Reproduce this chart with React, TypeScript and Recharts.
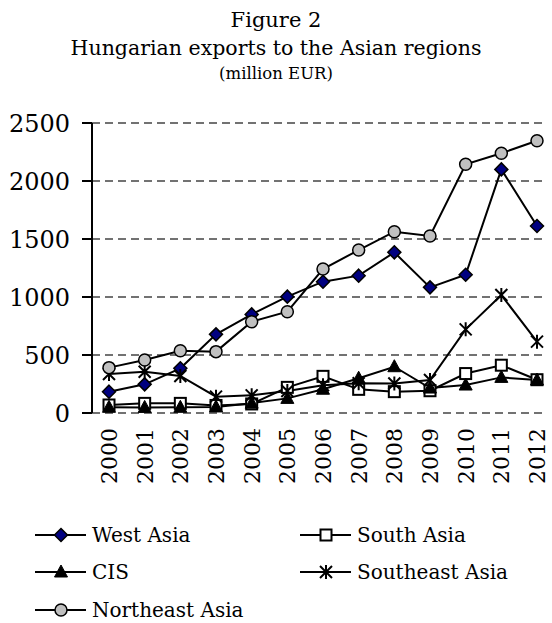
import { LineChart, Line, XAxis, YAxis, CartesianGrid } from 'recharts'

const years = ['2000', '2001', '2002', '2003', '2004', '2005', '2006', '2007', '2008', '2009', '2010', '2011', '2012']
const westAsia = [184, 247, 385, 678, 850, 1003, 1132, 1184, 1385, 1083, 1192, 2100, 1612]
const southAsia = [69, 83, 83, 65, 78, 221, 316, 204, 184, 192, 340, 412, 287]
const cis = [49, 48, 49, 52, 85, 126, 205, 300, 399, 215, 241, 307, 284]
const southeastAsia = [336, 356, 319, 141, 152, 190, 240, 256, 255, 284, 721, 1017, 615]
const northeastAsia = [391, 457, 537, 529, 787, 873, 1241, 1405, 1563, 1526, 2144, 2239, 2347]
const yTicks = [0, 500, 1000, 1500, 2000, 2500]

const FONT = '"DejaVu Serif", serif'

const chartData = years.map((year, i) => ({
  year,
  west: westAsia[i],
  south: southAsia[i],
  cis: cis[i],
  southeast: southeastAsia[i],
  northeast: northeastAsia[i],
}))

type Shape = 'diamond' | 'square' | 'triangle' | 'star' | 'circle'

const Marker = ({ shape, cx, cy }: { shape: Shape; cx: number; cy: number }) => {
  if (shape === 'diamond') {
    const s = 6.5
    return (
      <path
        d={`M${cx},${cy - s}L${cx + s},${cy}L${cx},${cy + s}L${cx - s},${cy}Z`}
        fill="#000080"
        stroke="#000"
        strokeWidth={1.5}
      />
    )
  }
  if (shape === 'square') {
    const s = 5.5
    return <rect x={cx - s} y={cy - s} width={s * 2} height={s * 2} fill="#fff" stroke="#000" strokeWidth={2} />
  }
  if (shape === 'triangle') {
    return (
      <path d={`M${cx},${cy - 7}L${cx + 6.5},${cy + 5}L${cx - 6.5},${cy + 5}Z`} fill="#000" stroke="#000" strokeWidth={1} />
    )
  }
  if (shape === 'star') {
    const s = 6
    return (
      <path
        d={`M${cx - s},${cy - s}L${cx + s},${cy + s}M${cx - s},${cy + s}L${cx + s},${cy - s}M${cx},${cy - s - 1}L${cx},${cy + s + 1}`}
        stroke="#000"
        strokeWidth={2}
        fill="none"
      />
    )
  }
  return <circle cx={cx} cy={cy} r={6} fill="#c0c0c0" stroke="#000" strokeWidth={1.5} />
}

const makeDot = (shape: Shape) => (props: any) => {
  const { cx, cy, index } = props
  if (cx == null || cy == null) return <g key={`${shape}-${index}`} />
  return (
    <g key={`${shape}-${index}`}>
      <Marker shape={shape} cx={cx} cy={cy} />
    </g>
  )
}

const XTick = ({ x, y, payload }: any) => (
  <text
    x={x}
    y={428}
    dy="0.36em"
    transform={`rotate(-90, ${x}, 428)`}
    textAnchor="end"
    fontFamily={FONT}
    fontSize={22}
    fill="#000"
  >
    {payload.value}
  </text>
)

const series: { key: string; name: string; shape: Shape }[] = [
  { key: 'west', name: 'West Asia', shape: 'diamond' },
  { key: 'south', name: 'South Asia', shape: 'square' },
  { key: 'cis', name: 'CIS', shape: 'triangle' },
  { key: 'southeast', name: 'Southeast Asia', shape: 'star' },
  { key: 'northeast', name: 'Northeast Asia', shape: 'circle' },
]

// legend positions follow the reference's two-column grid
const legendPos = [
  { left: 35, top: 535 },
  { left: 300, top: 535 },
  { left: 35, top: 572 },
  { left: 300, top: 572 },
  { left: 35, top: 610 },
]

export default function App() {
  return (
    <div style={{ position: 'absolute', left: 0, top: 0, width: 552, height: 623, background: '#fff', fontFamily: FONT }}>
      <div style={{ position: 'absolute', left: 0, width: 552, top: 8, textAlign: 'center', fontSize: 21, lineHeight: '24px' }}>
        Figure 2
      </div>
      <div style={{ position: 'absolute', left: 0, width: 552, top: 36, textAlign: 'center', fontSize: 20.5, lineHeight: '24px' }}>
        Hungarian exports to the Asian regions
      </div>
      <div style={{ position: 'absolute', left: 0, width: 552, top: 62, textAlign: 'center', fontSize: 16.5, lineHeight: '24px' }}>
        (million EUR)
      </div>

      <div style={{ position: 'absolute', left: 0, top: 0 }}>
        <LineChart width={552} height={500} data={chartData} margin={{ top: 123, right: 7, left: 0, bottom: 7 }}>
          <CartesianGrid vertical={false} stroke="#444" strokeWidth={1.3} strokeDasharray="8 5" />
          <XAxis
            dataKey="year"
            scale="point"
            padding={{ left: 17, right: 8 }}
            axisLine={false}
            tickLine={false}
            height={80}
            interval={0}
            tick={<XTick />}
          />
          <YAxis
            domain={[0, 2500]}
            ticks={yTicks}
            width={92}
            axisLine={{ stroke: '#000', strokeWidth: 2 }}
            tickLine={{ stroke: '#000', strokeWidth: 2 }}
            tickSize={10}
            tickMargin={12}
            tick={{ fontFamily: FONT, fontSize: 24, fill: '#000' }}
          />
          {series.map(s => (
            <Line
              key={s.key}
              dataKey={s.key}
              name={s.name}
              stroke="#000"
              strokeWidth={2}
              dot={makeDot(s.shape)}
              activeDot={false}
              isAnimationActive={false}
            />
          ))}
        </LineChart>
      </div>

      {series.map((s, i) => (
        <div
          key={s.key}
          style={{ position: 'absolute', left: legendPos[i].left, top: legendPos[i].top - 12, height: 24, display: 'flex', alignItems: 'center' }}
        >
          <svg width={52} height={24}>
            <line x1={0} y1={12} x2={51} y2={12} stroke="#000" strokeWidth={2} />
            <Marker shape={s.shape} cx={26} cy={12} />
          </svg>
          <span style={{ fontSize: 20, marginLeft: 5, lineHeight: '24px' }}>{s.name}</span>
        </div>
      ))}
    </div>
  )
}
